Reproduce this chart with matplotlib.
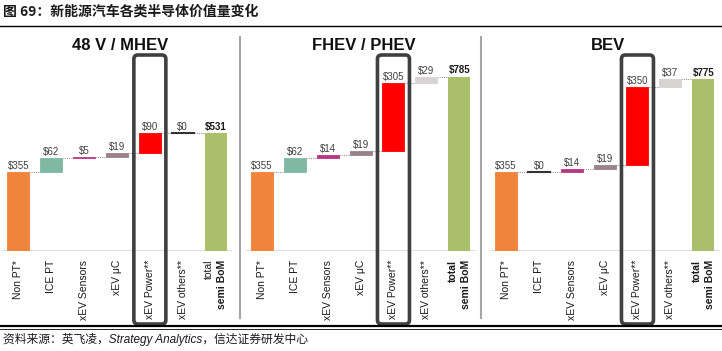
import numpy as np
import matplotlib.pyplot as plt
from matplotlib.patches import FancyBboxPatch

plt.rcParams['font.family'] = ['Liberation Sans', 'Noto Sans CJK SC', 'DejaVu Sans']

# 数据
categories = ["Non PT*", "ICE PT", "xEV Sensors", "xEV μC", "xEV Power**", "xEV others**"]
total_label = ("total", "semi BoM")
panel_titles = ["48 V / MHEV", "FHEV / PHEV", "BEV"]
mhev_values = [355, 62, 5, 19, 90, 0]
phev_values = [355, 62, 14, 19, 305, 29]
bev_values = [355, 0, 14, 19, 350, 37]
totals = [531, 785, 775]
bar_colors = ["#F0843C", "#7FB8A3", "#B8377E", "#9A8288", "#FF0000", "#D8D3D3"]
total_color = "#AABF6A"
highlight_idx = 4

W, H = 722, 351
fig = plt.figure(figsize=(W / 100, H / 100), dpi=100)

# 背景叠加层（像素坐标）
ov = fig.add_axes([0, 0, 1, 1], zorder=5)
ov.set_xlim(0, W)
ov.set_ylim(H, 0)
ov.axis('off')
ov.patch.set_alpha(0)

panel_left = [2, 245.6, 489.6]
ax_w, ax_top, ax_bot = 230, 51, 251
all_values = [mhev_values, phev_values, bev_values]
total_bold = ["normal", "bold", "bold"]
bw = 0.67

for p in range(3):
    ax = fig.add_axes([panel_left[p] / W, (H - ax_bot) / H, ax_w / W, (ax_bot - ax_top) / H])
    ax.set_xlim(-0.5, 6.5)
    ax.set_ylim(0, 900)
    ax.axis('off')
    ax.axhline(0, color="#D9D9D9", lw=1.2, zorder=1)
    vals = all_values[p]
    cum = 0
    for i, v in enumerate(vals):
        if v > 0:
            ax.bar(i, v, bottom=cum, width=bw, color=bar_colors[i], edgecolor=bar_colors[i],
                   lw=0.6, zorder=2)
        else:
            ax.plot([i - bw / 2, i + bw / 2], [cum, cum], color="#333333", lw=1.5, zorder=3)
        top = cum + v
        ax.text(i, top + 5, f"${v}", ha='center', va='bottom', fontsize=7, color="#404040")
        # 连接虚线
        ax.plot([i + bw / 2, i + 1 - bw / 2], [top, top], color="#999999", lw=0.8,
                linestyle=(0, (1, 1)), zorder=1)
        cum = top
    n = len(vals)
    ax.bar(n, totals[p], width=bw, color=total_color, zorder=2)
    ax.text(n, totals[p] + 5, f"${totals[p]}", ha='center', va='bottom', fontsize=7,
            fontweight='bold', color="#1A1A1A")

    # 类别标签
    for i, c in enumerate(categories):
        ax.text(i, -40, c, rotation=90, ha='center', va='top', fontsize=7.5, color="#1A1A1A")
    ax.text(n - 0.2, -40, total_label[0], rotation=90, ha='center', va='top', fontsize=7.5,
            fontweight=total_bold[p], color="#1A1A1A")
    ax.text(n + 0.21, -40, total_label[1], rotation=90, ha='center', va='top', fontsize=7.5,
            fontweight='bold', color="#1A1A1A")

    # 标题
    cx = (ax.transData.transform((3, 0))[0] + ax.transData.transform((3.2, 0))[0]) / 2
    ov.text(cx, 45, panel_titles[p], ha='center', va='center', fontsize=12,
            fontweight='bold', color="#111111")

    # 高亮框
    hx = ax.transData.transform((highlight_idx, 0))[0]
    box = FancyBboxPatch((hx - 13.5, 57.5), 27, 264, boxstyle="round,pad=2.5,rounding_size=4",
                         fill=False, edgecolor="#404040", lw=2.6)
    ov.add_patch(box)

# 分隔线
for x in [240, 481]:
    ov.plot([x, x], [37, 318], color="#A6A6A6", lw=1.5)

# 标题、来源与框线
ov.plot([0, W], [26, 26], color="black", lw=1)
ov.plot([0, W], [326, 326], color="black", lw=1.6)
ov.plot([0, W], [329, 329], color="black", lw=0.6)
ov.text(3, 12, "图 69：新能源汽车各类半导体价值量变化", ha='left', va='center', fontsize=10,
        fontweight='bold', color="#1A1A1A", family=['Noto Sans CJK SC', 'DejaVu Sans'])
ov.text(3, 339, "资料来源：英飞凌，Strategy Analytics，信达证券研发中心", ha='left', va='center',
        fontsize=8.5, style='italic', color="#1A1A1A")

fig.savefig("out.png", dpi=100)
